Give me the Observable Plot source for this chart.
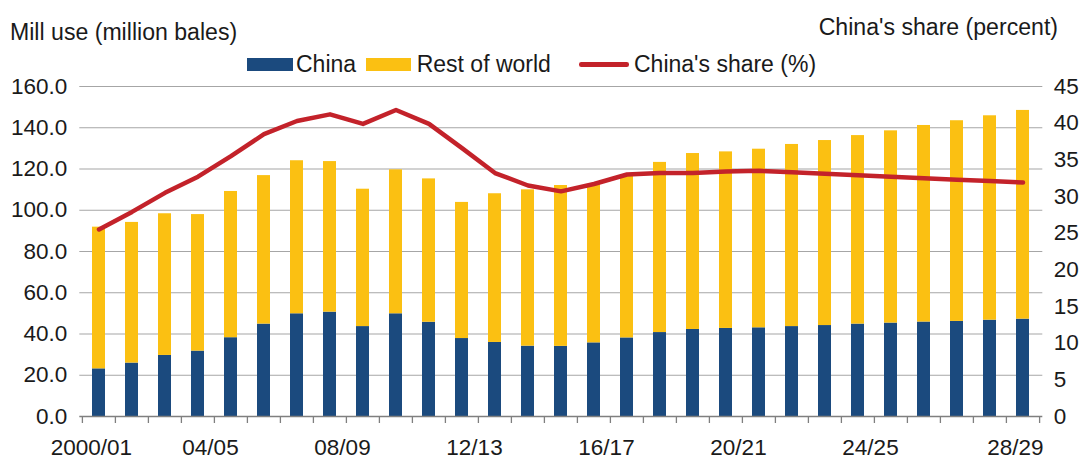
<!DOCTYPE html>
<html><head><meta charset="utf-8">
<script src="https://cdn.jsdelivr.net/npm/d3@7"></script>
<script src="https://cdn.jsdelivr.net/npm/@observablehq/plot@0.6"></script>
<style>
body{margin:0;background:#fff;}
#wrap{position:relative;width:1081px;height:459px;font-family:"Liberation Sans",Arial,Helvetica,sans-serif;color:#1a1a1a;}
.t{position:absolute;font-size:22.5px;white-space:nowrap;line-height:1;}
.sw{position:absolute;}
</style></head><body><div id="wrap"></div>
<script>
const seasons = ["2000/01","01/02","02/03","03/04","04/05","05/06","06/07","07/08","08/09","09/10","10/11","11/12","12/13","13/14","14/15","15/16","16/17","17/18","18/19","19/20","20/21","21/22","22/23","23/24","24/25","25/26","26/27","27/28","28/29"];
const china = [23.1,25.9,29.6,31.7,38.2,44.8,49.8,50.6,43.6,49.8,45.7,37.8,35.9,34.1,34.0,35.7,38.1,40.7,42.2,42.7,43.0,43.6,44.1,44.8,45.3,45.8,46.1,46.7,47.2];
const restOfWorld = [68.7,68.2,68.7,66.2,70.9,72.0,74.2,73.0,66.6,69.8,69.5,66.0,72.1,75.8,78.0,76.8,78.3,82.5,85.3,85.6,86.6,88.3,89.7,91.4,93.2,95.3,97.3,99.1,101.2];
const chinaShare = [25.5,27.9,30.5,32.7,35.5,38.5,40.3,41.2,39.9,41.8,39.9,36.6,33.2,31.5,30.7,31.7,33.0,33.2,33.2,33.4,33.5,33.3,33.1,32.9,32.7,32.5,32.3,32.1,31.9];
const leftTicks = [0,20,40,60,80,100,120,140,160];
const rightTicks = [0,5,10,15,20,25,30,35,40,45];
const labelSeasons = ["2000/01","04/05","08/09","12/13","16/17","20/21","24/25","28/29"];
const seriesNames = ["China","Rest of world"];
const seriesColors = ["#1b4a7e","#fbc012"];
const lineColor = "#c3222a";

const W=1081,H=459, mL=79.3, mR=38.7, mT=86, mB=43;
const step=(W-mL-mR)/seasons.length;
const leftMax = 160, rightMax = 45;
const toLeft = v => v*leftMax/rightMax;

const rows = [];
seasons.forEach((s,i)=>{
  rows.push({season:s, series:seriesNames[0], value:china[i]});
  rows.push({season:s, series:seriesNames[1], value:restOfWorld[i]});
});
const shareRows = seasons.map((s,i)=>({season:s, share:chinaShare[i]}));
const font = '"Liberation Sans",Arial,Helvetica,sans-serif';

const chart = Plot.plot({
  width:W, height:H, marginLeft:mL, marginRight:mR, marginTop:mT, marginBottom:mB,
  style:{fontFamily:font, fontSize:"22.5px", color:"#1a1a1a", background:"transparent"},
  x:{type:"band", domain:seasons, paddingInner:0.6, paddingOuter:0.3, axis:null},
  y:{domain:[0,leftMax], axis:null},
  color:{domain:seriesNames, range:seriesColors},
  marks:[
    Plot.ruleY(leftTicks.slice(1), {stroke:"#a6a6a6", strokeWidth:1.2}),
    Plot.barY(rows, {x:"season", y:"value", fill:"series"}),
    Plot.line(shareRows, {x:"season", y:d=>toLeft(d.share), stroke:lineColor, strokeWidth:4.5, strokeLinecap:"round", strokeLinejoin:"round"}),
    Plot.ruleY([0], {stroke:"#7f7f7f", strokeWidth:1.3}),
    Plot.axisY({ticks:leftTicks, tickFormat:d3.format(".1f"), tickSize:0, tickPadding:12.6, anchor:"left", label:null, fontSize:22.5}),
    Plot.axisY({ticks:rightTicks.map(toLeft), tickFormat:d=>String(Math.round(d*rightMax/leftMax)), tickSize:0, tickPadding:11, anchor:"right", label:null, fontSize:22.5}),
    Plot.axisX({ticks:seasons, tickFormat:()=>"", tickSize:7, dx:-step/2, stroke:"#7f7f7f", strokeWidth:1.3, label:null}),
    Plot.axisX({ticks:[seasons[seasons.length-1]], tickFormat:()=>"", tickSize:7, dx:step/2, stroke:"#7f7f7f", strokeWidth:1.3, label:null}),
    Plot.axisX({ticks:labelSeasons.slice(1,-1), tickSize:0, tickPadding:22.5, dx:-20.5, label:null, fontSize:22.5}),
    Plot.axisX({ticks:[labelSeasons[0], labelSeasons[labelSeasons.length-1]], tickSize:0, tickPadding:22.5, dx:-7.7, label:null, fontSize:22.5})
  ]
});
const wrap = document.getElementById("wrap");
chart.style.position="absolute"; chart.style.left="0"; chart.style.top="0";
wrap.appendChild(chart);

function addText(txt, css){const d=document.createElement("div");d.className="t";d.textContent=txt;Object.assign(d.style,css);wrap.appendChild(d);}
function addSw(css){const d=document.createElement("div");d.className="sw";Object.assign(d.style,css);wrap.appendChild(d);}
addText("Mill use (million bales)", {left:"10px", top:"21.2px", fontSize:"23.1px"});
addText("China's share (percent)", {right:"23px", top:"16px", fontSize:"23.1px"});
addSw({left:"246.7px", top:"58.3px", width:"46px", height:"12.4px", background:seriesColors[0]});
addText(seriesNames[0], {left:"296px", top:"52.6px", fontSize:"23px"});
addSw({left:"365.7px", top:"58.3px", width:"45.3px", height:"12.4px", background:seriesColors[1]});
addText(seriesNames[1], {left:"416.7px", top:"52.6px", fontSize:"23px"});
addSw({left:"579px", top:"62.3px", width:"50px", height:"4.5px", borderRadius:"2.25px", background:lineColor});
addText("China's share (%)", {left:"634px", top:"52.6px", fontSize:"23px"});
</script></body></html>
